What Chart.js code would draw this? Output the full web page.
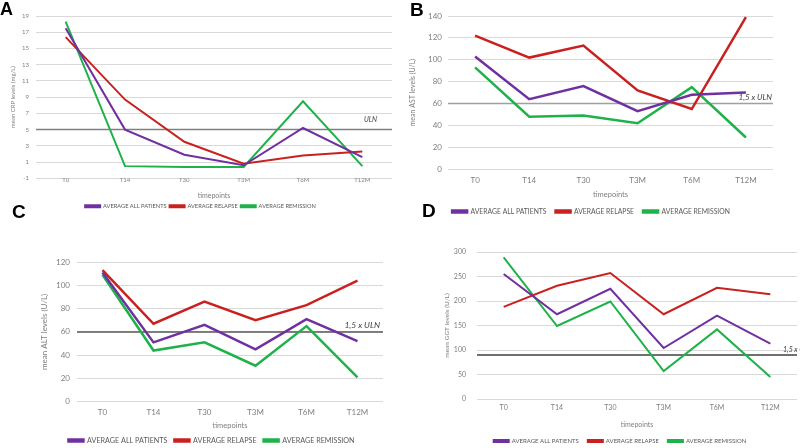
<!DOCTYPE html>
<html>
<head>
<meta charset="utf-8">
<script src="https://cdn.jsdelivr.net/npm/chart.js@4.4.1/dist/chart.umd.min.js"></script>
<style>
  body { margin: 0; background: #fff; width: 800px; height: 448px; overflow: hidden; position: relative; }
  .panel { position: absolute; }
  .letter { position: absolute; font: bold 19px "Liberation Sans", Arial, sans-serif; color: #000; line-height: 1; }
</style>
</head>
<body>
<div class="panel" style="left:0;top:0;width:400px;height:219px"><canvas id="crp"></canvas></div>
<div class="panel" style="left:400px;top:0;width:400px;height:225px"><canvas id="ast"></canvas></div>
<div class="panel" style="left:0;top:222px;width:400px;height:232px"><canvas id="alt"></canvas></div>
<div class="panel" style="left:400px;top:222px;width:400px;height:232px"><canvas id="ggt"></canvas></div>
<div class="letter" style="left:0;top:0;font-size:18px">A</div>
<div class="letter" style="left:410px;top:0">B</div>
<div class="letter" style="left:12px;top:202px">C</div>
<div class="letter" style="left:422px;top:201px">D</div>
<script>
const timepoints = ['T0', 'T14', 'T30', 'T3M', 'T6M', 'T12M'];
const groups = ['AVERAGE ALL PATIENTS', 'AVERAGE RELAPSE', 'AVERAGE REMISSION'];
const groupColors = ['#7030a0', '#c8211f', '#1fb24a'];

// CRP (mg/L)
const crpAll = [17.5, 5.0, 1.9, 0.6, 5.2, 1.6];
const crpRelapse = [16.4, 8.7, 3.5, 0.8, 1.8, 2.3];
const crpRemission = [18.3, 0.5, 0.4, 0.4, 8.5, 0.5];
const crpLimit = 5;

// AST (U/L)
const astAll = [103, 64, 76, 53, 68, 70];
const astRelapse = [122, 102, 113, 72, 55, 139];
const astRemission = [93, 48, 49, 42, 75, 29];
const astLimit = 60;

// ALT (U/L)
const altAll = [111, 51, 66, 45, 71, 52];
const altRelapse = [113, 67, 86, 70, 83, 104];
const altRemission = [109, 44, 51, 31, 65, 21];
const altLimit = 60;

// GGT (U/L)
const ggtAll = [255, 173, 225, 104, 170, 113];
const ggtRelapse = [188, 231, 257, 173, 227, 214];
const ggtRemission = [289, 149, 199, 57, 142, 45];
const ggtLimit = 90;

const FONT = 'Lato, "Open Sans", sans-serif';

// horizontal reference line with its label
const limitLine = {
  id: 'limitLine',
  beforeDatasetsDraw(chart, args, o) {
    const y = chart.scales.y.getPixelForValue(o.value);
    const a = chart.chartArea;
    const ctx = chart.ctx;
    ctx.save();
    ctx.strokeStyle = o.color;
    ctx.lineWidth = o.width;
    ctx.beginPath();
    ctx.moveTo(a.left, y);
    ctx.lineTo(a.right, y);
    ctx.stroke();
    ctx.fillStyle = '#404040';
    ctx.font = 'italic ' + o.fontSize + 'px ' + FONT;
    ctx.textAlign = o.align;
    ctx.textBaseline = 'bottom';
    ctx.fillText(o.text, a.right + o.dx, y - o.dy);
    ctx.restore();
  }
};

function panel(id, s) {
  new Chart(document.getElementById(id), {
    type: 'line',
    data: {
      labels: timepoints,
      datasets: s.series.map((d, i) => ({
        label: groups[i],
        data: d,
        borderColor: groupColors[i],
        backgroundColor: groupColors[i],
        borderWidth: s.lw,
        pointRadius: 0,
        tension: 0,
        fill: false
      }))
    },
    plugins: [limitLine],
    options: {
      responsive: true,
      maintainAspectRatio: false,
      animation: false,
      layout: { autoPadding: false, padding: { left: s.area[0] - s.yw, top: s.area[1], right: 400 - s.area[2], bottom: 0 } },
      plugins: {
        limitLine: { value: s.limit, text: s.limitText, color: s.limitColor, width: 1.5, fontSize: s.limitFont, dx: s.limitDx, dy: s.limitDy, align: s.limitAlign },
        tooltip: { enabled: false },
        legend: {
          position: 'bottom',
          labels: { boxWidth: 15, boxHeight: 2, padding: s.legPad, color: '#595959', font: { family: FONT, size: s.legFont } }
        }
      },
      scales: {
        x: {
          offset: true,
          afterFit: sc => { sc.height = s.xh; },
          grid: { display: false, drawTicks: false },
          border: { display: false },
          ticks: { color: '#7f7f7f', padding: s.xtp, font: { family: FONT, size: s.tickFont } },
          title: { display: true, text: 'timepoints', color: '#7f7f7f', padding: 0, font: { family: FONT, size: s.titleFont } }
        },
        y: {
          min: s.min, max: s.max,
          afterFit: sc => { sc.width = s.yw; },
          grid: { color: '#d9d9d9', lineWidth: 1, drawTicks: false },
          border: { display: false },
          ticks: { stepSize: s.step, color: '#7f7f7f', padding: s.ytp, font: { family: FONT, size: s.tickFont } },
          title: { display: true, text: s.yTitle, color: '#7f7f7f', padding: 0, font: { family: FONT, size: s.yTitleFont } }
        }
      }
    }
  });
}

panel('crp', {
  series: [crpAll, crpRelapse, crpRemission], lw: 2,
  area: [36, 16, 392], yw: 27, xh: 22, xtp: -2,
  min: -1, max: 19, step: 2, tickFont: 6, titleFont: 7, yTitle: 'mean CRP levels (mg/L)', yTitleFont: 6, ytp: 7,
  legFont: 5.7, legPad: 3,
  limit: crpLimit, limitText: 'ULN', limitColor: '#808080', limitFont: 7, limitDx: -15, limitDy: 6, limitAlign: 'right'
});

panel('ast', {
  series: [astAll, astRelapse, astRemission], lw: 2.5,
  area: [48, 16, 373], yw: 39, xh: 30, xtp: 6,
  min: 0, max: 140, step: 20, tickFont: 8, titleFont: 7.5, yTitle: 'mean AST levels (U/L)', yTitleFont: 7, ytp: 6,
  legFont: 6.8, legPad: 9,
  limit: astLimit, limitText: '1,5 x ULN', limitColor: '#a0a0a0', limitFont: 8, limitDx: -1, limitDy: 2, limitAlign: 'right'
});

panel('alt', {
  series: [altAll, altRelapse, altRemission], lw: 2.5,
  area: [77, 40, 383], yw: 37, xh: 28, xtp: 6,
  min: 0, max: 120, step: 20, tickFont: 8, titleFont: 7.5, yTitle: 'mean ALT levels (U/L)', yTitleFont: 8, ytp: 7,
  legFont: 7.2, legPad: 7,
  limit: altLimit, limitText: '1,5 x ULN', limitColor: '#595959', limitFont: 8.5, limitDx: -3, limitDy: 2, limitAlign: 'right'
});

panel('ggt', {
  series: [ggtAll, ggtRelapse, ggtRemission], lw: 2,
  area: [77, 30, 397], yw: 34, xh: 30, xtp: 5,
  min: 0, max: 300, step: 50, tickFont: 7, titleFont: 7, yTitle: 'mean GGT levels (U/L)', yTitleFont: 6.5, ytp: 11,
  legFont: 6, legPad: 9,
  limit: ggtLimit, limitText: '1,5 x ULN', limitColor: '#404040', limitFont: 7, limitDx: -14, limitDy: 2, limitAlign: 'left'
});
</script>
</body>
</html>
